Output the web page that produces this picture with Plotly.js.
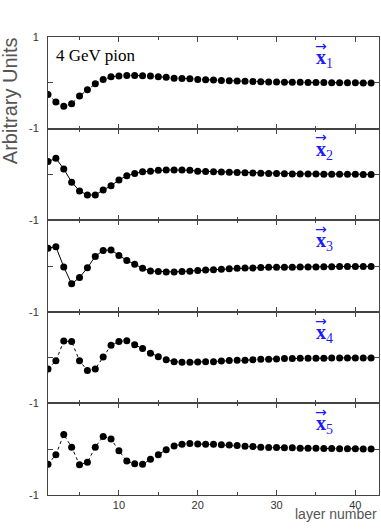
<!DOCTYPE html>
<html>
<head>
<meta charset="utf-8">
<script src="https://cdn.plot.ly/plotly-3.0.1.min.js"></script>
<style>html,body{margin:0;padding:0;background:#fff;}#chart{width:381px;height:532px;}</style>
</head>
<body>
<div id="chart"></div>
<script>
// layer numbers 1..42
const layers = [1,2,3,4,5,6,7,8,9,10,11,12,13,14,15,16,17,18,19,20,21,22,23,24,25,26,27,28,29,30,31,32,33,34,35,36,37,38,39,40,41,42];

const x1 = [-0.255,-0.42,-0.51,-0.46,-0.29,-0.15,-0.02,0.07,0.13,0.15,0.16,0.16,0.155,0.15,0.13,0.12,0.10,0.095,0.09,0.07,0.065,0.06,0.05,0.045,0.04,0.035,0.03,0.025,0.02,0.015,0.01,0.01,0.01,0.005,0.005,0.005,0.0,0.0,0.0,0.0,-0.005,-0.005];
const x2 = [0.28,0.35,0.12,-0.17,-0.36,-0.45,-0.45,-0.34,-0.25,-0.12,-0.03,0.02,0.06,0.07,0.09,0.095,0.095,0.095,0.09,0.07,0.065,0.06,0.05,0.045,0.04,0.035,0.03,0.025,0.02,0.02,0.015,0.01,0.01,0.01,0.01,0.005,0.005,0.005,0.005,0.005,0.0,0.0];
const x3 = [0.39,0.42,-0.02,-0.39,-0.25,-0.04,0.21,0.34,0.35,0.23,0.12,0.04,-0.05,-0.11,-0.12,-0.13,-0.13,-0.12,-0.115,-0.10,-0.09,-0.08,-0.07,-0.06,-0.05,-0.045,-0.045,-0.035,-0.03,-0.03,-0.025,-0.025,-0.02,-0.02,-0.02,-0.015,-0.015,-0.01,-0.01,-0.01,-0.01,-0.01];
const x4 = [-0.25,-0.07,0.36,0.35,-0.07,-0.28,-0.25,0.015,0.27,0.35,0.37,0.28,0.20,0.095,0.02,-0.045,-0.09,-0.10,-0.10,-0.095,-0.09,-0.09,-0.075,-0.065,-0.06,-0.06,-0.045,-0.035,-0.035,-0.03,-0.02,-0.02,-0.015,-0.015,-0.015,-0.015,-0.01,-0.007,-0.007,-0.007,-0.007,-0.007];
const x5 = [-0.33,-0.12,0.32,0.045,-0.34,-0.285,0.045,0.28,0.225,-0.035,-0.26,-0.32,-0.33,-0.22,-0.12,-0.01,0.07,0.11,0.125,0.115,0.11,0.11,0.095,0.09,0.08,0.065,0.06,0.045,0.035,0.035,0.03,0.03,0.02,0.02,0.02,0.015,0.015,0.01,0.01,0.01,0.005,0.005];

const series = [x1,x2,x3,x4,x5];
const dashes = ['dot','solid','solid','dot','dot'];
const subLabels = ['1','2','3','4','5'];

const traces = series.map((s,i)=>({
  x: layers, y: s, type:'scatter', mode:'lines+markers',
  xaxis: i===0?'x':'x'+(i+1), yaxis: i===0?'y':'y'+(i+1),
  line:{color:'#000', width:1, dash:dashes[i]},
  marker:{color:'#000', size:7},
  showlegend:false, hoverinfo:'skip'
}));

const layout = {
  width:381, height:532,
  margin:{l:48, r:2, t:37, b:37},
  paper_bgcolor:'#fff', plot_bgcolor:'#fff',
  showlegend:false,
  annotations:[]
};

const axisLine = '#444';
for(let i=0;i<5;i++){
  const k = i===0?'':String(i+1);
  const top = 1 - i*0.2, bot = 1-(i+1)*0.2;
  layout['xaxis'+k] = {
    domain:[0,1], anchor:'y'+k, range:[1,43],
    tick0:0, dtick:10, ticks:'inside', ticklen:5, tickcolor:axisLine, tickwidth:1,
    minor:{dtick:5, ticklen:3, ticks:'inside', tickcolor:axisLine},
    showline:true, linecolor:axisLine, linewidth:1, mirror:'ticks',
    showgrid:false, zeroline:false,
    showticklabels: i===4,
    tickfont:{family:'Liberation Sans, Arial, sans-serif', size:11, color:'#333'}
  };
  if(i>0) layout['xaxis'+k].matches = 'x';
  layout['yaxis'+k] = {
    domain:[bot,top], anchor:'x'+k, range:[-1,1],
    tickvals: i===0?[-1,0,1]:[-1,0],
    ticktext: i===0?['-1','','1']:['-1',''],
    ticks:'inside', ticklen:5, tickcolor:axisLine,
    showline:true, linecolor:axisLine, linewidth:1, mirror:'ticks',
    showgrid:false, zeroline:false,
    ticklabelstandoff:6,
    tickfont:{family:'Liberation Sans, Arial, sans-serif', size:11, color:'#333'}
  };
  // vector labels
  layout.annotations.push({
    xref:'x'+k, yref:'y'+k+' domain', x:34.8, y:0.765, xanchor:'left', yanchor:'middle',
    text:'<b>x</b><sub>'+subLabels[i]+'</sub>', showarrow:false,
    font:{family:'Liberation Serif, Times New Roman, serif', size:20, color:'#1a1aff'}
  });
  layout.annotations.push({
    xref:'x'+k, yref:'y'+k+' domain', x:35.6, y:0.905, xanchor:'center', yanchor:'middle',
    text:'→', showarrow:false,
    font:{family:'DejaVu Sans, sans-serif', size:14, color:'#1a1aff'}
  });
}
layout.annotations.push({
  xref:'paper', yref:'paper', x:-0.115, y:0.862, xanchor:'center', yanchor:'middle',
  text:'Arbitrary Units', textangle:-90, showarrow:false,
  font:{family:'Liberation Sans, Arial, sans-serif', size:20, color:'#555'}
});
layout.annotations.push({
  xref:'paper', yref:'paper', x:1.0, y:-0.042, xanchor:'right', yanchor:'middle',
  text:'layer number', showarrow:false,
  font:{family:'Liberation Sans, Arial, sans-serif', size:14, color:'#555'}
});
layout.annotations.push({
  xref:'paper', yref:'paper', x:0.018, y:0.96, xanchor:'left', yanchor:'middle',
  text:'4 GeV pion', showarrow:false,
  font:{family:'Liberation Serif, Times New Roman, serif', size:17, color:'#000'}
});

Plotly.newPlot('chart', traces, layout, {staticPlot:true, displayModeBar:false});
</script>
</body>
</html>
